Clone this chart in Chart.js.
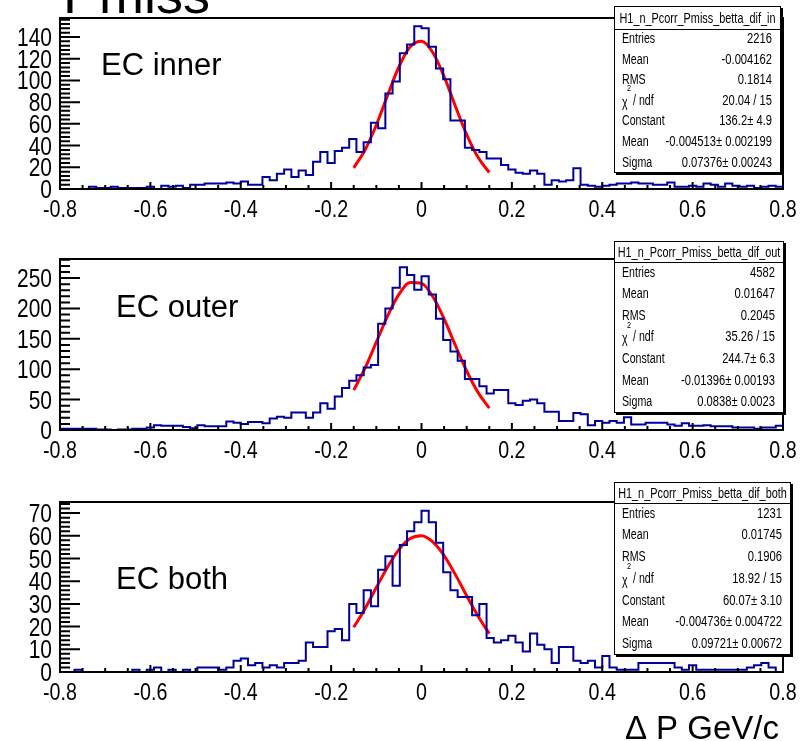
<!DOCTYPE html>
<html>
<head>
<meta charset="utf-8">
<script src="https://cdn.jsdelivr.net/npm/chart.js@4.4.0/dist/chart.umd.min.js"></script>
<style>
  body { margin: 0; background: #fff; width: 807px; height: 741px; overflow: hidden; position: relative; }
  canvas { position: absolute; left: 0; }
</style>
</head>
<body>
<canvas id="pIn" width="807" height="232" style="top:0px"></canvas>
<canvas id="pOut" width="807" height="236" style="top:236px"></canvas>
<canvas id="pBoth" width="807" height="265" style="top:476px"></canvas>
<script>
// binning of the three histograms: 100 bins from -0.8 to 0.8
const binLow = -0.8;
const binWidth = 0.016;

// bin contents
const countsInner = [0, 0, 0, 0, 2, 1, 1, 2, 1, 1,
  1, 1, 2, 0, 3, 2, 3, 1, 4, 4,
  5, 5, 5, 6, 5, 7, 4, 4, 11, 8,
  14, 18, 11, 17, 13, 25, 34, 24, 35, 38,
  46, 34, 43, 61, 56, 88, 99, 125, 133, 150,
  148, 131, 111, 101, 63, 63, 38, 36, 34, 28,
  28, 22, 18, 15, 14, 17, 14, 4, 8, 7,
  8, 19, 4, 3, 2, 3, 4, 5, 5, 6,
  5, 5, 4, 4, 6, 2, 2, 3, 2, 5,
  4, 2, 5, 3, 2, 3, 1, 2, 3, 2];
const countsOuter = [2, 2, 2, 2, 2, 1, 1, 0, 1, 1,
  2, 2, 4, 8, 7, 7, 7, 5, 3, 8,
  6, 6, 6, 14, 12, 10, 13, 13, 11, 19,
  22, 20, 29, 29, 20, 29, 44, 35, 55, 69,
  81, 90, 103, 107, 175, 200, 234, 268, 255, 231,
  253, 223, 183, 148, 129, 114, 84, 84, 72, 60,
  66, 66, 44, 41, 48, 50, 44, 30, 30, 15,
  15, 28, 26, 8, 15, 12, 15, 12, 21, 9,
  9, 12, 12, 12, 9, 7, 11, 7, 7, 8,
  6, 6, 6, 4, 4, 4, 2, 4, 4, 7];
const countsBoth = [0, 0, 1, 0, 0, 0, 0, 0, 0, 0,
  1, 0, 1, 2, 0, 1, 0, 1, 0, 2,
  2, 2, 1, 2, 5, 6, 3, 4, 2, 3,
  2, 4, 4, 5, 13, 11, 11, 18, 19, 14,
  30, 26, 36, 29, 45, 51, 38, 56, 62, 66,
  71, 66, 57, 44, 36, 33, 33, 25, 30, 15,
  13, 14, 16, 13, 9, 17, 12, 10, 4, 11,
  11, 5, 4, 5, 2, 7, 2, 1, 1, 1,
  4, 4, 4, 4, 4, 2, 1, 3, 1, 1,
  1, 1, 1, 1, 1, 2, 3, 4, 2, 0];

// red gaussian fit, read at a few points between -0.15 and 0.15
const fitX = [-0.15, -0.125, -0.1, -0.075, -0.05, -0.025, 0, 0.025, 0.05, 0.075, 0.1, 0.125, 0.15];
const fitInner = [19.5, 35.9, 58.9, 86.3, 112.6, 131.0, 136.0, 125.7, 103.6, 76.2, 50.0, 29.2, 15.2];
const fitOuter = [65.6, 101.7, 144.5, 187.8, 223.1, 242.6, 241.3, 219.6, 182.8, 139.2, 97.1, 61.9, 36.0];
const fitBoth = [19.7, 27.9, 37.2, 46.3, 53.9, 58.8, 60.0, 57.3, 51.3, 42.9, 33.6, 24.7, 16.9];

// y axis ranges and tick steps [max, major, minor]
const yAxisInner = [157.5, 20, 4];
const yAxisOuter = [281.4, 50, 10];
const yAxisBoth = [74.9, 10, 2];

// stats boxes
const statLabels = ['Entries', 'Mean', 'RMS', 'χ2 / ndf', 'Constant', 'Mean', 'Sigma'];
const statsInner = ['2216', '-0.004162', '0.1814', '20.04 / 15', '136.2± 4.9', '-0.004513± 0.002199', '0.07376± 0.00243'];
const statsOuter = ['4582', '0.01647', '0.2045', '35.26 / 15', '244.7± 6.3', '-0.01396± 0.00193', '0.0838± 0.0023'];
const statsBoth = ['1231', '0.01745', '0.1906', '18.92 / 15', '60.07± 3.10', '-0.004736± 0.004722', '0.09721± 0.00672'];

const SANS = "'Liberation Sans', Arial, sans-serif";
const HIST_BLUE = '#00009a';

function histPoints(counts) {
  const pts = counts.map((c, i) => ({ x: binLow + i * binWidth, y: c }));
  pts.push({ x: binLow + counts.length * binWidth, y: counts[counts.length - 1] });
  return pts;
}

function xLabel(v) {
  const r = Math.round(v * 10) / 10;
  return r === 0 ? '0' : String(r);
}

// helvetica-narrow look: liberation sans squeezed horizontally
function narrowText(ctx, text, x, y, size, align, sx) {
  ctx.save();
  ctx.font = size + 'px ' + SANS;
  ctx.textAlign = align || 'left';
  ctx.translate(x, y);
  ctx.scale(sx || 0.82, 1);
  ctx.fillText(text, 0, 0);
  ctx.restore();
}

// ROOT style frame, ticks pointing into the pad, tick labels
const rootFrame = {
  id: 'rootFrame',
  afterDatasetsDraw(chart, args, o) {
    const { ctx, chartArea: a, scales: { x, y } } = chart;
    ctx.save();
    ctx.strokeStyle = '#000';
    ctx.lineWidth = 2;
    ctx.beginPath();
    const nY = Math.floor(y.max / o.yMinor + 1e-6);
    const per = Math.round(o.yMajor / o.yMinor);
    for (let k = 0; k <= nY; k++) {
      const py = y.getPixelForValue(k * o.yMinor);
      const len = k % per === 0 ? 20 : 10;
      ctx.moveTo(a.left, py);
      ctx.lineTo(a.left + len, py);
    }
    for (let k = 0; k <= 32; k++) {
      const px = x.getPixelForValue(-0.8 + k * 0.05);
      const len = k % 4 === 0 ? 7 : 4;
      ctx.moveTo(px, a.bottom);
      ctx.lineTo(px, a.bottom - len);
    }
    ctx.stroke();
    ctx.strokeRect(a.left, a.top, a.right - a.left, a.bottom - a.top);

    ctx.fillStyle = '#000';
    ctx.textBaseline = 'alphabetic';
    x.ticks.forEach(t => {
      narrowText(ctx, xLabel(t.value), x.getPixelForValue(t.value), a.bottom + 28, 24, 'center');
    });
    y.ticks.forEach(t => {
      narrowText(ctx, String(t.value), a.left - 8, y.getPixelForValue(t.value) + 9, 25.5, 'right');
    });
    ctx.restore();
  }
};

// labels and the stats box
const rootDeco = {
  id: 'rootDeco',
  afterDraw(chart, args, o) {
    const ctx = chart.ctx;
    ctx.save();
    ctx.fillStyle = '#000';
    ctx.textBaseline = 'alphabetic';
    (o.texts || []).forEach(t => {
      ctx.font = t.font;
      ctx.textAlign = t.align || 'left';
      ctx.fillText(t.text, t.x, t.y);
    });

    const b = o.box;
    const w = b.x2 - b.x1, h = b.y2 - b.y1;
    ctx.fillStyle = '#000';
    ctx.fillRect(b.x1 + 2, b.y1 + 2, w, h);
    ctx.fillStyle = '#fff';
    ctx.fillRect(b.x1, b.y1, w, h);
    ctx.strokeStyle = '#000';
    ctx.lineWidth = 1;
    ctx.strokeRect(b.x1 + 0.5, b.y1 + 0.5, w - 1, h - 1);
    ctx.beginPath();
    ctx.moveTo(b.x1, b.yt + 0.5);
    ctx.lineTo(b.x2, b.yt + 0.5);
    ctx.stroke();

    ctx.fillStyle = '#000';
    ctx.textBaseline = 'middle';
    narrowText(ctx, o.title, (b.x1 + b.x2) / 2, (b.y1 + b.yt) / 2 + 1, 14.5, 'center', 0.75);

    const rowH = (b.y2 - b.yt) / o.labels.length;
    o.labels.forEach((lab, k) => {
      const yc = b.yt + rowH * (k + 0.5);
      if (lab.startsWith('χ2')) {
        narrowText(ctx, 'χ', b.x1 + 8, yc + 2, 14, 'left', 0.76);
        narrowText(ctx, '2', b.x1 + 13, yc - 12, 9, 'left', 0.8);
        narrowText(ctx, '/ ndf', b.x1 + 19, yc, 14, 'left', 0.76);
      } else {
        narrowText(ctx, lab, b.x1 + 8, yc, 14, 'left', 0.76);
      }
      narrowText(ctx, o.values[k], b.x2 - 9, yc, 14, 'right', 0.8);
    });
    ctx.restore();
  }
};

function makePanel(id, counts, fit, yAxis, padTop, padBottom, deco) {
  const [yMax, yMajor, yMinor] = yAxis;
  return new Chart(document.getElementById(id), {
    type: 'line',
    data: {
      datasets: [
        {
          data: histPoints(counts),
          stepped: 'before',
          borderColor: HIST_BLUE,
          borderWidth: 2,
          pointRadius: 0,
          fill: false
        },
        {
          data: fitX.map((v, i) => ({ x: v, y: fit[i] })),
          borderColor: '#ff0000',
          borderWidth: 3,
          pointRadius: 0,
          cubicInterpolationMode: 'monotone',
          fill: false
        }
      ]
    },
    options: {
      responsive: false,
      animation: false,
      events: [],
      layout: { padding: { left: 0, right: 24, top: padTop, bottom: padBottom } },
      scales: {
        x: {
          type: 'linear',
          min: -0.8,
          max: 0.8,
          grid: { display: false, drawTicks: false },
          border: { display: false },
          ticks: { display: false, stepSize: 0.2, autoSkip: false, maxRotation: 0 },
          afterFit: s => { s.height = 34; }
        },
        y: {
          type: 'linear',
          min: 0,
          max: yMax,
          grid: { display: false, drawTicks: false },
          border: { display: false },
          ticks: { display: false, stepSize: yMajor, autoSkip: false, includeBounds: false },
          afterFit: s => { s.width = 60; }
        }
      },
      plugins: {
        legend: { display: false },
        tooltip: { enabled: false },
        rootFrame: { yMajor: yMajor, yMinor: yMinor },
        rootDeco: deco
      }
    },
    plugins: [rootFrame, rootDeco]
  });
}

makePanel('pIn', countsInner, fitInner, yAxisInner, 18, 9, {
  texts: [
    { text: 'Pmiss', x: 63, y: 12.5, font: '54px ' + SANS },
    { text: 'EC inner', x: 101, y: 75, font: '31px ' + SANS }
  ],
  title: 'H1_n_Pcorr_Pmiss_betta_dif_in',
  labels: statLabels,
  values: statsInner,
  box: { x1: 614, x2: 781, y1: 6, yt: 29, y2: 173 }
});

makePanel('pOut', countsOuter, fitOuter, yAxisOuter, 23, 8, {
  texts: [
    { text: 'EC outer', x: 116, y: 81, font: '31px ' + SANS }
  ],
  title: 'H1_n_Pcorr_Pmiss_betta_dif_out',
  labels: statLabels,
  values: statsOuter,
  box: { x1: 614, x2: 784, y1: 5, yt: 26, y2: 177 }
});

makePanel('pBoth', countsBoth, fitBoth, yAxisBoth, 26, 35, {
  texts: [
    { text: 'EC both', x: 116, y: 113, font: '31px ' + SANS },
    { text: 'Δ P GeV/c', x: 779, y: 263, font: '33px ' + SANS, align: 'right' }
  ],
  title: 'H1_n_Pcorr_Pmiss_betta_dif_both',
  labels: statLabels,
  values: statsBoth,
  box: { x1: 614, x2: 791, y1: 6, yt: 27, y2: 179 }
});
</script>
</body>
</html>
